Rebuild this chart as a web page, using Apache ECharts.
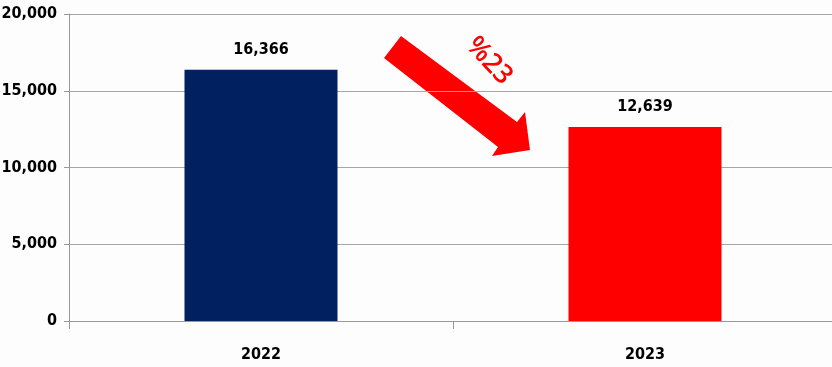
<!DOCTYPE html>
<html><head><meta charset="utf-8">
<script src="https://cdn.jsdelivr.net/npm/echarts@6/dist/echarts.min.js"></script>
<style>html,body{margin:0;padding:0;background:#fdfdfd}#c{width:832px;height:367px}</style>
</head><body><div id="c"></div>
<script>
const categories = ['2022', '2023'];
const values = [16366, 12639];
const barColors = ['#002060', '#ff0000'];
const yTicks = [0, 5000, 10000, 15000, 20000];
const changeLabel = '%23';

const chart = echarts.init(document.getElementById('c'));
const font = '"Liberation Sans Narrow", "DejaVu Sans Condensed", sans-serif';
chart.setOption({
  backgroundColor: '#fdfdfd',
  animation: false,
  grid: { left: 69, width: 768, top: 14, bottom: 46, outerBoundsMode: 'none', containLabel: false },
  xAxis: {
    type: 'category', data: categories,
    axisLine: { lineStyle: { color: '#999' } },
    axisTick: { show: true, length: 8, lineStyle: { color: '#999' } },
    axisLabel: { margin: 26, fontFamily: font, fontWeight: 'bold', fontSize: 16, color: '#000' }
  },
  yAxis: {
    type: 'value', min: yTicks[0], max: yTicks[yTicks.length - 1], interval: 5000,
    axisLine: { show: true, lineStyle: { color: '#999' } },
    axisTick: { show: true, length: 5, lineStyle: { color: '#999' } },
    splitLine: { lineStyle: { color: '#a6a6a6' } },
    axisLabel: { margin: 12, fontFamily: font, fontWeight: 'bold', fontSize: 16, color: '#000',
      formatter: v => v.toLocaleString('en-US') }
  },
  series: [{
    type: 'bar', barWidth: 153,
    data: values.map((v, i) => ({ value: v, itemStyle: { color: barColors[i] } })),
    label: { show: true, position: 'top', distance: 12, fontFamily: font, fontWeight: 'bold',
      fontSize: 16, color: '#000', formatter: p => p.value.toLocaleString('en-US') }
  }],
  graphic: [
    { type: 'polygon', shape: { points: [[401,36],[517,122],[525,112],[530,150],[492,156],[498,147],[384,58]] },
      style: { fill: '#ff0000' } },
    { type: 'text', x: 489, y: 61, rotation: -0.82,
      style: { text: changeLabel, fill: '#ff0000', font: '600 27px "Open Sans", sans-serif',
        textAlign: 'center', textVerticalAlign: 'middle' } }
  ]
});
</script></body></html>
